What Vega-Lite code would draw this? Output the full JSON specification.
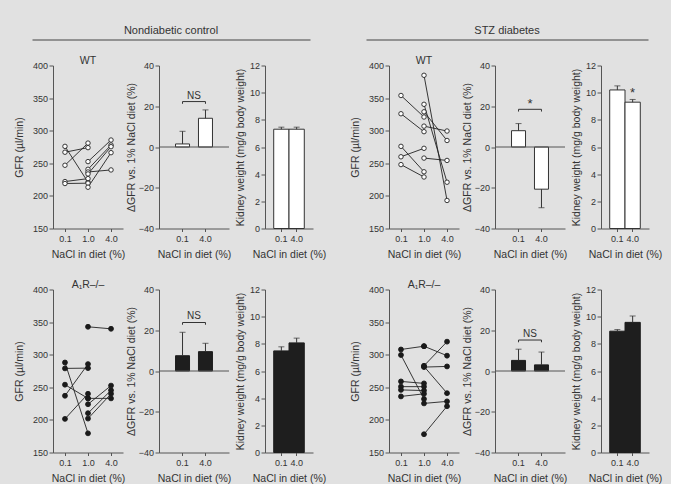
{
"$schema": "https://vega.github.io/schema/vega-lite/v6.json",
"background": "#e1e1e1",
"padding": {"left": 14, "top": 22.5, "right": 0, "bottom": 0},
"datasets": {
"gfr": [
{"g":"ND","r":"WT","id":"a1","diet":"0.1","v":276},{"g":"ND","r":"WT","id":"a1","diet":"1.0","v":221},
{"g":"ND","r":"WT","id":"a2","diet":"0.1","v":267},{"g":"ND","r":"WT","id":"a2","diet":"1.0","v":274},
{"g":"ND","r":"WT","id":"a3","diet":"0.1","v":247},{"g":"ND","r":"WT","id":"a3","diet":"1.0","v":281},
{"g":"ND","r":"WT","id":"a4","diet":"0.1","v":222},{"g":"ND","r":"WT","id":"a4","diet":"1.0","v":226.5},
{"g":"ND","r":"WT","id":"a5","diet":"0.1","v":219},{"g":"ND","r":"WT","id":"a5","diet":"1.0","v":219.5},
{"g":"ND","r":"WT","id":"b1","diet":"1.0","v":252.6},{"g":"ND","r":"WT","id":"b1","diet":"4.0","v":285.7},
{"g":"ND","r":"WT","id":"b2","diet":"1.0","v":240.8},{"g":"ND","r":"WT","id":"b2","diet":"4.0","v":278},
{"g":"ND","r":"WT","id":"b3","diet":"1.0","v":236.7},{"g":"ND","r":"WT","id":"b3","diet":"4.0","v":239.8},
{"g":"ND","r":"WT","id":"b4","diet":"1.0","v":233.7},{"g":"ND","r":"WT","id":"b4","diet":"4.0","v":275.5},
{"g":"ND","r":"WT","id":"b5","diet":"1.0","v":213.3},{"g":"ND","r":"WT","id":"b5","diet":"4.0","v":266.3},
{"g":"STZ","r":"WT","id":"c1","diet":"0.1","v":354},{"g":"STZ","r":"WT","id":"c1","diet":"1.0","v":321},
{"g":"STZ","r":"WT","id":"c2","diet":"0.1","v":326},{"g":"STZ","r":"WT","id":"c2","diet":"1.0","v":298.5},
{"g":"STZ","r":"WT","id":"c3","diet":"0.1","v":276},{"g":"STZ","r":"WT","id":"c3","diet":"1.0","v":237},
{"g":"STZ","r":"WT","id":"c4","diet":"0.1","v":260},{"g":"STZ","r":"WT","id":"c4","diet":"1.0","v":273},
{"g":"STZ","r":"WT","id":"c5","diet":"0.1","v":248},{"g":"STZ","r":"WT","id":"c5","diet":"1.0","v":229},
{"g":"STZ","r":"WT","id":"d1","diet":"1.0","v":385},{"g":"STZ","r":"WT","id":"d1","diet":"4.0","v":193},
{"g":"STZ","r":"WT","id":"d2","diet":"1.0","v":340.5},{"g":"STZ","r":"WT","id":"d2","diet":"4.0","v":221},
{"g":"STZ","r":"WT","id":"d3","diet":"1.0","v":329},{"g":"STZ","r":"WT","id":"d3","diet":"4.0","v":285},
{"g":"STZ","r":"WT","id":"d4","diet":"1.0","v":307},{"g":"STZ","r":"WT","id":"d4","diet":"4.0","v":299.5},
{"g":"STZ","r":"WT","id":"d5","diet":"1.0","v":258},{"g":"STZ","r":"WT","id":"d5","diet":"4.0","v":254.4},
{"g":"ND","r":"A","id":"e1","diet":"0.1","v":288},{"g":"ND","r":"A","id":"e1","diet":"1.0","v":179.4},
{"g":"ND","r":"A","id":"e2","diet":"0.1","v":279},{"g":"ND","r":"A","id":"e2","diet":"1.0","v":279.4},
{"g":"ND","r":"A","id":"e3","diet":"0.1","v":254},{"g":"ND","r":"A","id":"e3","diet":"1.0","v":233},
{"g":"ND","r":"A","id":"e4","diet":"0.1","v":237},{"g":"ND","r":"A","id":"e4","diet":"1.0","v":285.6},
{"g":"ND","r":"A","id":"e5","diet":"0.1","v":201.5},{"g":"ND","r":"A","id":"e5","diet":"1.0","v":240},
{"g":"ND","r":"A","id":"f1","diet":"1.0","v":342.8},{"g":"ND","r":"A","id":"f1","diet":"4.0","v":339.7},
{"g":"ND","r":"A","id":"f2","diet":"1.0","v":233},{"g":"ND","r":"A","id":"f2","diet":"4.0","v":233},
{"g":"ND","r":"A","id":"f3","diet":"1.0","v":224},{"g":"ND","r":"A","id":"f3","diet":"4.0","v":252.6},
{"g":"ND","r":"A","id":"f4","diet":"1.0","v":210.3},{"g":"ND","r":"A","id":"f4","diet":"4.0","v":245.4},
{"g":"ND","r":"A","id":"f5","diet":"1.0","v":202},{"g":"ND","r":"A","id":"f5","diet":"4.0","v":240},
{"g":"STZ","r":"A","id":"g1","diet":"0.1","v":308},{"g":"STZ","r":"A","id":"g1","diet":"1.0","v":313},
{"g":"STZ","r":"A","id":"g2","diet":"0.1","v":299.5},{"g":"STZ","r":"A","id":"g2","diet":"1.0","v":232},
{"g":"STZ","r":"A","id":"g3","diet":"0.1","v":259},{"g":"STZ","r":"A","id":"g3","diet":"1.0","v":256},
{"g":"STZ","r":"A","id":"g4","diet":"0.1","v":251},{"g":"STZ","r":"A","id":"g4","diet":"1.0","v":251},
{"g":"STZ","r":"A","id":"g5","diet":"0.1","v":246},{"g":"STZ","r":"A","id":"g5","diet":"1.0","v":245},
{"g":"STZ","r":"A","id":"g6","diet":"0.1","v":236},{"g":"STZ","r":"A","id":"g6","diet":"1.0","v":240},
{"g":"STZ","r":"A","id":"h1","diet":"1.0","v":313},{"g":"STZ","r":"A","id":"h1","diet":"4.0","v":298.5},
{"g":"STZ","r":"A","id":"h2","diet":"1.0","v":283},{"g":"STZ","r":"A","id":"h2","diet":"4.0","v":320},
{"g":"STZ","r":"A","id":"h3","diet":"1.0","v":281},{"g":"STZ","r":"A","id":"h3","diet":"4.0","v":282},
{"g":"STZ","r":"A","id":"h4","diet":"1.0","v":282},{"g":"STZ","r":"A","id":"h4","diet":"4.0","v":241},
{"g":"STZ","r":"A","id":"h5","diet":"1.0","v":178},{"g":"STZ","r":"A","id":"h5","diet":"4.0","v":221},
{"g":"STZ","r":"A","id":"h6","diet":"1.0","v":225.3},{"g":"STZ","r":"A","id":"h6","diet":"4.0","v":228.4}
],
"delta": [
{"g":"ND","r":"WT","diet":"0.1","m":1.5,"e":7.7},{"g":"ND","r":"WT","diet":"4.0","m":14.1,"e":18.2},
{"g":"STZ","r":"WT","diet":"0.1","m":8.0,"e":11.5},{"g":"STZ","r":"WT","diet":"4.0","m":-20.7,"e":-29.8},
{"g":"ND","r":"A","diet":"0.1","m":7.5,"e":19.0},{"g":"ND","r":"A","diet":"4.0","m":9.5,"e":13.6},
{"g":"STZ","r":"A","diet":"0.1","m":5.2,"e":10.7},{"g":"STZ","r":"A","diet":"4.0","m":3.0,"e":9.3}
],
"kid": [
{"g":"ND","r":"WT","diet":"0.1","m":7.31,"e":7.46},{"g":"ND","r":"WT","diet":"4.0","m":7.31,"e":7.46},
{"g":"STZ","r":"WT","diet":"0.1","m":10.2,"e":10.5},{"g":"STZ","r":"WT","diet":"4.0","m":9.3,"e":9.5},
{"g":"ND","r":"A","diet":"0.1","m":7.48,"e":7.78},{"g":"ND","r":"A","diet":"4.0","m":8.07,"e":8.42},
{"g":"STZ","r":"A","diet":"0.1","m":8.93,"e":9.05},{"g":"STZ","r":"A","diet":"4.0","m":9.58,"e":10.05}
],
"sig": [
{"g":"ND","r":"WT","a":"0.1","b":"4.0","y":22.3,"yt":21.2,"ly":25.2,"lab":"NS"},
{"g":"STZ","r":"WT","a":"0.1","b":"4.0","y":18.5,"yt":17.4,"ly":21.0,"lab":"*"},
{"g":"ND","r":"A","a":"0.1","b":"4.0","y":23.8,"yt":22.7,"ly":27.0,"lab":"NS"},
{"g":"STZ","r":"A","a":"0.1","b":"4.0","y":15.2,"yt":14.1,"ly":18.4,"lab":"NS"}
]
},
"config": {
"font": "Liberation Sans",
"view": {"stroke": null},
"axis": {"domainColor": "#555", "tickColor": "#555", "labelColor": "#333", "titleColor": "#333", "labelFontSize": 9, "titleFontSize": 10.5, "titleFontWeight": "normal", "grid": false, "tickSize": 4, "labelPadding": 1.5, "labelOverlap": false},
"axisX": {"labelAngle": 0, "tickSize": 3, "labelPadding": 2.5, "titlePadding": 6},
"title": {"fontSize": 10.5, "fontWeight": "normal", "color": "#333", "offset": -5}
},
"spacing": 19,
"hconcat": [
{"vconcat": [
{"width": 278, "height": 17, "data": {"values": [{"t": "Nondiabetic control"}]},
 "mark": {"type": "text", "fontSize": 11, "color": "#333", "dx": -21},
 "encoding": {"text": {"field": "t"}, "x": {"datum": 0.5, "type": "quantitative", "scale": {"domain": [0, 1]}, "axis": {"title": null, "labels": false, "ticks": false, "domainColor": "#777", "domainWidth": 1.3, "position": -21}}}},
{"columns": 3, "bounds": "flush", "spacing": {"row": 61, "column": 36}, "concat": [
{"width":70,"height":163,"title":"WT","data":{"name":"gfr"},"transform":[{"filter":"datum.g=='ND'&&datum.r=='WT'"}],
 "encoding":{"x":{"field":"diet","type":"ordinal","scale":{"type":"point","domain":["0.1","1.0","4.0"],"padding":0.52},"axis":{"title":"NaCl in diet (%)"}},
 "y":{"field":"v","type":"quantitative","scale":{"domain":[150,400],"zero":false,"nice":false},"axis":{"values":[150,200,250,300,350,400],"title":"GFR (µl/min)","titlePadding":8}}},
 "layer":[{"mark":{"type":"line","color":"#222","strokeWidth":0.9},"encoding":{"detail":{"field":"id"}}},
 {"mark":{"type":"point","shape":"circle","filled":true,"fill":"#fff","stroke":"#222","strokeWidth":0.9,"size":20,"opacity":1}}]},
{"width":70,"height":163,"layer":[
 {"data":{"name":"delta"},"transform":[{"filter":"datum.g=='ND'&&datum.r=='WT'"}],"mark":{"type":"bar","fill":"#fff","stroke":"#333","strokeWidth":1},
  "encoding":{"x":{"field":"diet","type":"ordinal","scale":{"type":"band","domain":["0.1","4.0"],"paddingInner":0.39,"paddingOuter":0.72},"axis":{"title":"NaCl in diet (%)"}},
  "y":{"field":"m","type":"quantitative","scale":{"domain":[-40,40],"nice":false},"axis":{"values":[-40,-20,0,20,40],"title":"ΔGFR vs. 1% NaCl diet (%)","titlePadding":2}}}},
 {"data":{"name":"delta"},"transform":[{"filter":"datum.g=='ND'&&datum.r=='WT'"}],"mark":{"type":"rule","color":"#333"},"encoding":{"x":{"field":"diet","type":"ordinal"},"y":{"field":"m","type":"quantitative"},"y2":{"field":"e"}}},
 {"data":{"name":"delta"},"transform":[{"filter":"datum.g=='ND'&&datum.r=='WT'"}],"mark":{"type":"tick","color":"#333","size":6,"thickness":1},"encoding":{"x":{"field":"diet","type":"ordinal"},"y":{"field":"e","type":"quantitative"}}},
 {"data":{"values":[{"z":0}]},"mark":{"type":"rule","color":"#555"},"encoding":{"y":{"field":"z","type":"quantitative"}}},
 {"data":{"name":"sig"},"transform":[{"filter":"datum.g=='ND'&&datum.r=='WT'"}],"mark":{"type":"rule","color":"#333"},"encoding":{"x":{"field":"a","type":"ordinal"},"x2":{"field":"b"},"y":{"field":"y","type":"quantitative"}}},
 {"data":{"name":"sig"},"transform":[{"filter":"datum.g=='ND'&&datum.r=='WT'"}],"mark":{"type":"rule","color":"#333"},"encoding":{"x":{"field":"a","type":"ordinal"},"y":{"field":"y","type":"quantitative"},"y2":{"field":"yt"}}},
 {"data":{"name":"sig"},"transform":[{"filter":"datum.g=='ND'&&datum.r=='WT'"}],"mark":{"type":"rule","color":"#333"},"encoding":{"x":{"field":"b","type":"ordinal"},"y":{"field":"y","type":"quantitative"},"y2":{"field":"yt"}}},
 {"data":{"name":"sig"},"transform":[{"filter":"datum.g=='ND'&&datum.r=='WT'"}],"mark":{"type":"text","fontSize":10,"color":"#333","baseline":"middle"},"encoding":{"text":{"field":"lab"},"y":{"field":"ly","type":"quantitative"}}}
]},
{"width":48,"height":163,"layer":[
 {"data":{"name":"kid"},"transform":[{"filter":"datum.g=='ND'&&datum.r=='WT'"}],"mark":{"type":"bar","fill":"#fff","stroke":"#333","strokeWidth":1},
  "encoding":{"x":{"field":"diet","type":"ordinal","scale":{"type":"band","domain":["0.1","4.0"],"paddingInner":0,"paddingOuter":0.57},"axis":{"title":"NaCl in diet (%)"}},
  "y":{"field":"m","type":"quantitative","scale":{"domain":[0,12],"nice":false},"axis":{"values":[0,2,4,6,8,10,12],"tickCount":7,"labelOverlap":false,"title":"Kidney weight (mg/g body weight)","titlePadding":4}}}},
 {"data":{"name":"kid"},"transform":[{"filter":"datum.g=='ND'&&datum.r=='WT'"}],"mark":{"type":"rule","color":"#333"},"encoding":{"x":{"field":"diet","type":"ordinal"},"y":{"field":"m","type":"quantitative"},"y2":{"field":"e"}}},
 {"data":{"name":"kid"},"transform":[{"filter":"datum.g=='ND'&&datum.r=='WT'"}],"mark":{"type":"tick","color":"#333","size":6,"thickness":1},"encoding":{"x":{"field":"diet","type":"ordinal"},"y":{"field":"e","type":"quantitative"}}}
]},
{"width":70,"height":163,"title":"A₁R–/–","data":{"name":"gfr"},"transform":[{"filter":"datum.g=='ND'&&datum.r=='A'"}],
 "encoding":{"x":{"field":"diet","type":"ordinal","scale":{"type":"point","domain":["0.1","1.0","4.0"],"padding":0.52},"axis":{"title":"NaCl in diet (%)"}},
 "y":{"field":"v","type":"quantitative","scale":{"domain":[150,400],"zero":false,"nice":false},"axis":{"values":[150,200,250,300,350,400],"title":"GFR (µl/min)","titlePadding":8}}},
 "layer":[{"mark":{"type":"line","color":"#222","strokeWidth":0.9},"encoding":{"detail":{"field":"id"}}},
 {"mark":{"type":"point","shape":"circle","filled":true,"fill":"#1a1a1a","stroke":"#1a1a1a","strokeWidth":0.9,"size":24,"opacity":1}}]},
{"width":70,"height":163,"layer":[
 {"data":{"name":"delta"},"transform":[{"filter":"datum.g=='ND'&&datum.r=='A'"}],"mark":{"type":"bar","fill":"#1e1e1e","stroke":"#1e1e1e","strokeWidth":1},
  "encoding":{"x":{"field":"diet","type":"ordinal","scale":{"type":"band","domain":["0.1","4.0"],"paddingInner":0.39,"paddingOuter":0.72},"axis":{"title":"NaCl in diet (%)"}},
  "y":{"field":"m","type":"quantitative","scale":{"domain":[-40,40],"nice":false},"axis":{"values":[-40,-20,0,20,40],"title":"ΔGFR vs. 1% NaCl diet (%)","titlePadding":2}}}},
 {"data":{"name":"delta"},"transform":[{"filter":"datum.g=='ND'&&datum.r=='A'"}],"mark":{"type":"rule","color":"#333"},"encoding":{"x":{"field":"diet","type":"ordinal"},"y":{"field":"m","type":"quantitative"},"y2":{"field":"e"}}},
 {"data":{"name":"delta"},"transform":[{"filter":"datum.g=='ND'&&datum.r=='A'"}],"mark":{"type":"tick","color":"#333","size":6,"thickness":1},"encoding":{"x":{"field":"diet","type":"ordinal"},"y":{"field":"e","type":"quantitative"}}},
 {"data":{"values":[{"z":0}]},"mark":{"type":"rule","color":"#555"},"encoding":{"y":{"field":"z","type":"quantitative"}}},
 {"data":{"name":"sig"},"transform":[{"filter":"datum.g=='ND'&&datum.r=='A'"}],"mark":{"type":"rule","color":"#333"},"encoding":{"x":{"field":"a","type":"ordinal"},"x2":{"field":"b"},"y":{"field":"y","type":"quantitative"}}},
 {"data":{"name":"sig"},"transform":[{"filter":"datum.g=='ND'&&datum.r=='A'"}],"mark":{"type":"rule","color":"#333"},"encoding":{"x":{"field":"a","type":"ordinal"},"y":{"field":"y","type":"quantitative"},"y2":{"field":"yt"}}},
 {"data":{"name":"sig"},"transform":[{"filter":"datum.g=='ND'&&datum.r=='A'"}],"mark":{"type":"rule","color":"#333"},"encoding":{"x":{"field":"b","type":"ordinal"},"y":{"field":"y","type":"quantitative"},"y2":{"field":"yt"}}},
 {"data":{"name":"sig"},"transform":[{"filter":"datum.g=='ND'&&datum.r=='A'"}],"mark":{"type":"text","fontSize":10,"color":"#333","baseline":"middle"},"encoding":{"text":{"field":"lab"},"y":{"field":"ly","type":"quantitative"}}}
]},
{"width":48,"height":163,"layer":[
 {"data":{"name":"kid"},"transform":[{"filter":"datum.g=='ND'&&datum.r=='A'"}],"mark":{"type":"bar","fill":"#1e1e1e","stroke":"#1e1e1e","strokeWidth":1},
  "encoding":{"x":{"field":"diet","type":"ordinal","scale":{"type":"band","domain":["0.1","4.0"],"paddingInner":0,"paddingOuter":0.57},"axis":{"title":"NaCl in diet (%)"}},
  "y":{"field":"m","type":"quantitative","scale":{"domain":[0,12],"nice":false},"axis":{"values":[0,2,4,6,8,10,12],"tickCount":7,"labelOverlap":false,"title":"Kidney weight (mg/g body weight)","titlePadding":4}}}},
 {"data":{"name":"kid"},"transform":[{"filter":"datum.g=='ND'&&datum.r=='A'"}],"mark":{"type":"rule","color":"#333"},"encoding":{"x":{"field":"diet","type":"ordinal"},"y":{"field":"m","type":"quantitative"},"y2":{"field":"e"}}},
 {"data":{"name":"kid"},"transform":[{"filter":"datum.g=='ND'&&datum.r=='A'"}],"mark":{"type":"tick","color":"#333","size":6,"thickness":1},"encoding":{"x":{"field":"diet","type":"ordinal"},"y":{"field":"e","type":"quantitative"}}}
]}
]}
], "spacing": 26, "bounds": "flush"},
{"vconcat": [
{"width": 282, "height": 17, "data": {"values": [{"t": "STZ diabetes"}]},
 "mark": {"type": "text", "fontSize": 11, "color": "#333", "dx": -23},
 "encoding": {"text": {"field": "t"}, "x": {"datum": 0.5, "type": "quantitative", "scale": {"domain": [0, 1]}, "axis": {"title": null, "labels": false, "ticks": false, "domainColor": "#777", "domainWidth": 1.3, "position": -23}}}},
{"columns": 3, "bounds": "flush", "spacing": {"row": 61, "column": 36}, "concat": [
{"width":70,"height":163,"title":"WT","data":{"name":"gfr"},"transform":[{"filter":"datum.g=='STZ'&&datum.r=='WT'"}],
 "encoding":{"x":{"field":"diet","type":"ordinal","scale":{"type":"point","domain":["0.1","1.0","4.0"],"padding":0.52},"axis":{"title":"NaCl in diet (%)"}},
 "y":{"field":"v","type":"quantitative","scale":{"domain":[150,400],"zero":false,"nice":false},"axis":{"values":[150,200,250,300,350,400],"title":"GFR (µl/min)","titlePadding":8}}},
 "layer":[{"mark":{"type":"line","color":"#222","strokeWidth":0.9},"encoding":{"detail":{"field":"id"}}},
 {"mark":{"type":"point","shape":"circle","filled":true,"fill":"#fff","stroke":"#222","strokeWidth":0.9,"size":20,"opacity":1}}]},
{"width":70,"height":163,"layer":[
 {"data":{"name":"delta"},"transform":[{"filter":"datum.g=='STZ'&&datum.r=='WT'"}],"mark":{"type":"bar","fill":"#fff","stroke":"#333","strokeWidth":1},
  "encoding":{"x":{"field":"diet","type":"ordinal","scale":{"type":"band","domain":["0.1","4.0"],"paddingInner":0.39,"paddingOuter":0.72},"axis":{"title":"NaCl in diet (%)"}},
  "y":{"field":"m","type":"quantitative","scale":{"domain":[-40,40],"nice":false},"axis":{"values":[-40,-20,0,20,40],"title":"ΔGFR vs. 1% NaCl diet (%)","titlePadding":2}}}},
 {"data":{"name":"delta"},"transform":[{"filter":"datum.g=='STZ'&&datum.r=='WT'"}],"mark":{"type":"rule","color":"#333"},"encoding":{"x":{"field":"diet","type":"ordinal"},"y":{"field":"m","type":"quantitative"},"y2":{"field":"e"}}},
 {"data":{"name":"delta"},"transform":[{"filter":"datum.g=='STZ'&&datum.r=='WT'"}],"mark":{"type":"tick","color":"#333","size":6,"thickness":1},"encoding":{"x":{"field":"diet","type":"ordinal"},"y":{"field":"e","type":"quantitative"}}},
 {"data":{"values":[{"z":0}]},"mark":{"type":"rule","color":"#555"},"encoding":{"y":{"field":"z","type":"quantitative"}}},
 {"data":{"name":"sig"},"transform":[{"filter":"datum.g=='STZ'&&datum.r=='WT'"}],"mark":{"type":"rule","color":"#333"},"encoding":{"x":{"field":"a","type":"ordinal"},"x2":{"field":"b"},"y":{"field":"y","type":"quantitative"}}},
 {"data":{"name":"sig"},"transform":[{"filter":"datum.g=='STZ'&&datum.r=='WT'"}],"mark":{"type":"rule","color":"#333"},"encoding":{"x":{"field":"a","type":"ordinal"},"y":{"field":"y","type":"quantitative"},"y2":{"field":"yt"}}},
 {"data":{"name":"sig"},"transform":[{"filter":"datum.g=='STZ'&&datum.r=='WT'"}],"mark":{"type":"rule","color":"#333"},"encoding":{"x":{"field":"b","type":"ordinal"},"y":{"field":"y","type":"quantitative"},"y2":{"field":"yt"}}},
 {"data":{"name":"sig"},"transform":[{"filter":"datum.g=='STZ'&&datum.r=='WT'"}],"mark":{"type":"text","fontSize":13,"color":"#333","baseline":"middle"},"encoding":{"text":{"field":"lab"},"y":{"field":"ly","type":"quantitative"}}}
]},
{"width":48,"height":163,"layer":[
 {"data":{"name":"kid"},"transform":[{"filter":"datum.g=='STZ'&&datum.r=='WT'"}],"mark":{"type":"bar","fill":"#fff","stroke":"#333","strokeWidth":1},
  "encoding":{"x":{"field":"diet","type":"ordinal","scale":{"type":"band","domain":["0.1","4.0"],"paddingInner":0,"paddingOuter":0.57},"axis":{"title":"NaCl in diet (%)"}},
  "y":{"field":"m","type":"quantitative","scale":{"domain":[0,12],"nice":false},"axis":{"values":[0,2,4,6,8,10,12],"tickCount":7,"labelOverlap":false,"title":"Kidney weight (mg/g body weight)","titlePadding":4}}}},
 {"data":{"name":"kid"},"transform":[{"filter":"datum.g=='STZ'&&datum.r=='WT'"}],"mark":{"type":"rule","color":"#333"},"encoding":{"x":{"field":"diet","type":"ordinal"},"y":{"field":"m","type":"quantitative"},"y2":{"field":"e"}}},
 {"data":{"name":"kid"},"transform":[{"filter":"datum.g=='STZ'&&datum.r=='WT'"}],"mark":{"type":"tick","color":"#333","size":6,"thickness":1},"encoding":{"x":{"field":"diet","type":"ordinal"},"y":{"field":"e","type":"quantitative"}}},
 {"data":{"values":[{"diet":"4.0","y":10.0,"lab":"*"}]},"mark":{"type":"text","fontSize":13,"color":"#333","baseline":"middle"},"encoding":{"x":{"field":"diet","type":"ordinal"},"y":{"field":"y","type":"quantitative"},"text":{"field":"lab"}}}
]},
{"width":70,"height":163,"title":"A₁R–/–","data":{"name":"gfr"},"transform":[{"filter":"datum.g=='STZ'&&datum.r=='A'"}],
 "encoding":{"x":{"field":"diet","type":"ordinal","scale":{"type":"point","domain":["0.1","1.0","4.0"],"padding":0.52},"axis":{"title":"NaCl in diet (%)"}},
 "y":{"field":"v","type":"quantitative","scale":{"domain":[150,400],"zero":false,"nice":false},"axis":{"values":[150,200,250,300,350,400],"title":"GFR (µl/min)","titlePadding":8}}},
 "layer":[{"mark":{"type":"line","color":"#222","strokeWidth":0.9},"encoding":{"detail":{"field":"id"}}},
 {"mark":{"type":"point","shape":"circle","filled":true,"fill":"#1a1a1a","stroke":"#1a1a1a","strokeWidth":0.9,"size":24,"opacity":1}}]},
{"width":70,"height":163,"layer":[
 {"data":{"name":"delta"},"transform":[{"filter":"datum.g=='STZ'&&datum.r=='A'"}],"mark":{"type":"bar","fill":"#1e1e1e","stroke":"#1e1e1e","strokeWidth":1},
  "encoding":{"x":{"field":"diet","type":"ordinal","scale":{"type":"band","domain":["0.1","4.0"],"paddingInner":0.39,"paddingOuter":0.72},"axis":{"title":"NaCl in diet (%)"}},
  "y":{"field":"m","type":"quantitative","scale":{"domain":[-40,40],"nice":false},"axis":{"values":[-40,-20,0,20,40],"title":"ΔGFR vs. 1% NaCl diet (%)","titlePadding":2}}}},
 {"data":{"name":"delta"},"transform":[{"filter":"datum.g=='STZ'&&datum.r=='A'"}],"mark":{"type":"rule","color":"#333"},"encoding":{"x":{"field":"diet","type":"ordinal"},"y":{"field":"m","type":"quantitative"},"y2":{"field":"e"}}},
 {"data":{"name":"delta"},"transform":[{"filter":"datum.g=='STZ'&&datum.r=='A'"}],"mark":{"type":"tick","color":"#333","size":6,"thickness":1},"encoding":{"x":{"field":"diet","type":"ordinal"},"y":{"field":"e","type":"quantitative"}}},
 {"data":{"values":[{"z":0}]},"mark":{"type":"rule","color":"#555"},"encoding":{"y":{"field":"z","type":"quantitative"}}},
 {"data":{"name":"sig"},"transform":[{"filter":"datum.g=='STZ'&&datum.r=='A'"}],"mark":{"type":"rule","color":"#333"},"encoding":{"x":{"field":"a","type":"ordinal"},"x2":{"field":"b"},"y":{"field":"y","type":"quantitative"}}},
 {"data":{"name":"sig"},"transform":[{"filter":"datum.g=='STZ'&&datum.r=='A'"}],"mark":{"type":"rule","color":"#333"},"encoding":{"x":{"field":"a","type":"ordinal"},"y":{"field":"y","type":"quantitative"},"y2":{"field":"yt"}}},
 {"data":{"name":"sig"},"transform":[{"filter":"datum.g=='STZ'&&datum.r=='A'"}],"mark":{"type":"rule","color":"#333"},"encoding":{"x":{"field":"b","type":"ordinal"},"y":{"field":"y","type":"quantitative"},"y2":{"field":"yt"}}},
 {"data":{"name":"sig"},"transform":[{"filter":"datum.g=='STZ'&&datum.r=='A'"}],"mark":{"type":"text","fontSize":10,"color":"#333","baseline":"middle"},"encoding":{"text":{"field":"lab"},"y":{"field":"ly","type":"quantitative"}}}
]},
{"width":48,"height":163,"layer":[
 {"data":{"name":"kid"},"transform":[{"filter":"datum.g=='STZ'&&datum.r=='A'"}],"mark":{"type":"bar","fill":"#1e1e1e","stroke":"#1e1e1e","strokeWidth":1},
  "encoding":{"x":{"field":"diet","type":"ordinal","scale":{"type":"band","domain":["0.1","4.0"],"paddingInner":0,"paddingOuter":0.57},"axis":{"title":"NaCl in diet (%)"}},
  "y":{"field":"m","type":"quantitative","scale":{"domain":[0,12],"nice":false},"axis":{"values":[0,2,4,6,8,10,12],"tickCount":7,"labelOverlap":false,"title":"Kidney weight (mg/g body weight)","titlePadding":4}}}},
 {"data":{"name":"kid"},"transform":[{"filter":"datum.g=='STZ'&&datum.r=='A'"}],"mark":{"type":"rule","color":"#333"},"encoding":{"x":{"field":"diet","type":"ordinal"},"y":{"field":"m","type":"quantitative"},"y2":{"field":"e"}}},
 {"data":{"name":"kid"},"transform":[{"filter":"datum.g=='STZ'&&datum.r=='A'"}],"mark":{"type":"tick","color":"#333","size":6,"thickness":1},"encoding":{"x":{"field":"diet","type":"ordinal"},"y":{"field":"e","type":"quantitative"}}}
]}
]}
], "spacing": 26, "bounds": "flush"}
]
}
